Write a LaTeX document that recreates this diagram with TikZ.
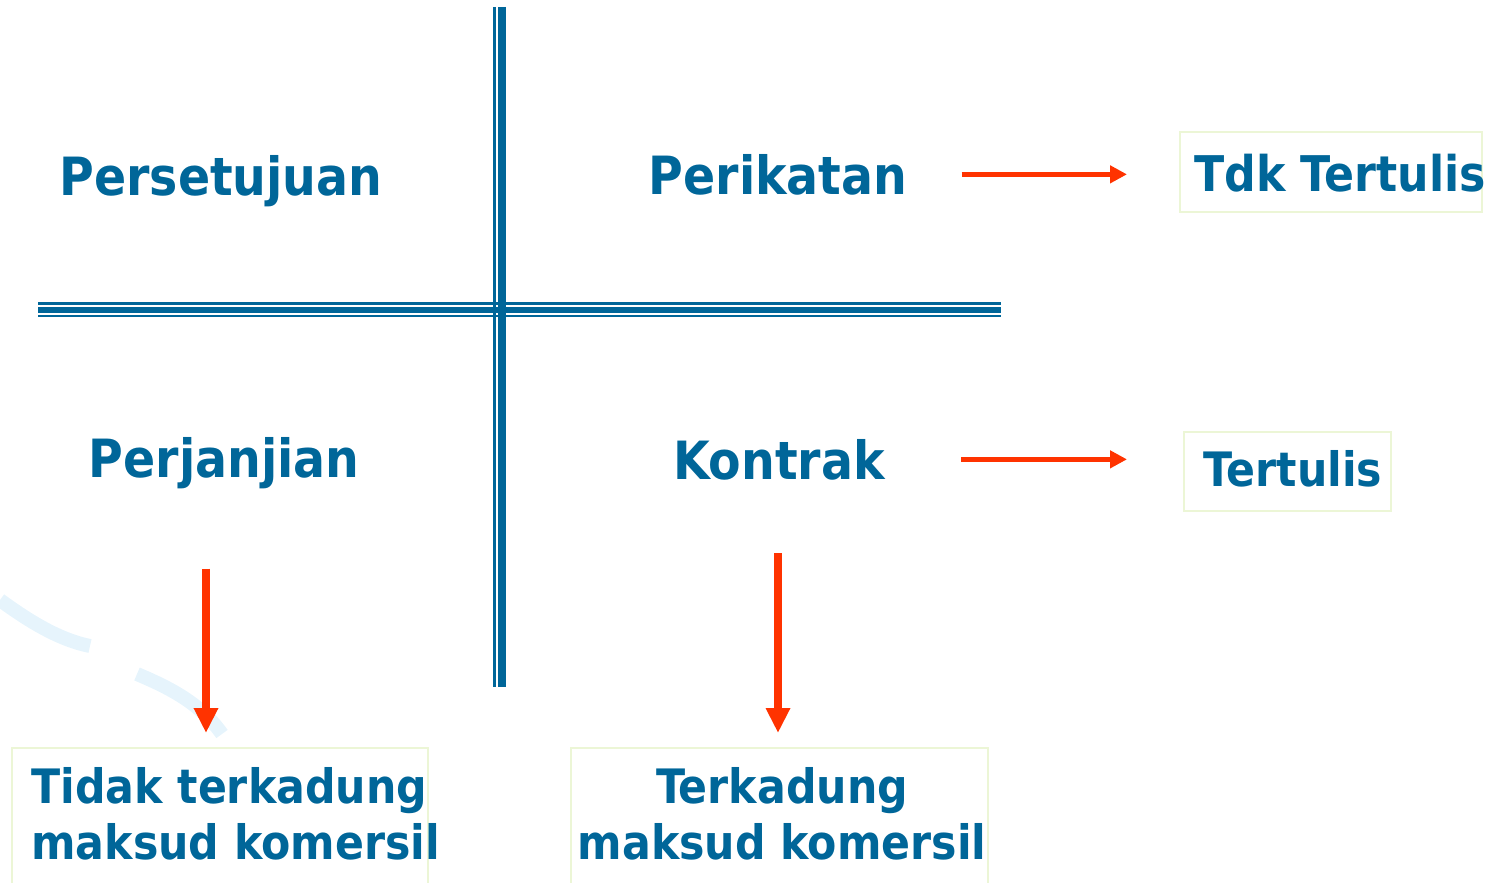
\documentclass[tikz,border=0pt]{standalone}
\usepackage{fontspec}
\newfontfamily\lblfont{DejaVu Sans Condensed Bold}
\usetikzlibrary{arrows.meta,calc}

\definecolor{lineblue}{RGB}{0,102,153}
\definecolor{arrowred}{RGB}{255,51,0}
\definecolor{boxgreen}{RGB}{236,246,214}
\definecolor{swoosh}{RGB}{230,244,252}

\begin{document}
\begin{tikzpicture}[x=0.02cm, y=-0.02cm,
  lbl/.style={font=\lblfont\fontsize{#1}{#1}\selectfont, text=lineblue, inner sep=0pt, anchor=base},
  twolbl/.style={font=\lblfont\fontsize{27}{32}\selectfont, text=lineblue, inner sep=0pt},
  resbox/.style={draw=boxgreen, line width=1.1pt, inner sep=0pt, anchor=north west},
  harrow/.style={draw=arrowred, line width=0.1cm, -{Triangle[length=0.34cm, width=0.34cm]}},
  varrow/.style={draw=arrowred, line width=0.16cm, -{Triangle[length=0.5cm, width=0.46cm]}}]
  \useasboundingbox (0,0) rectangle (1503,882);

  % swoosh in the back
  \draw[swoosh, line width=0.28cm] (0,600) .. controls (30,622) and (60,640) .. (90,646);
  \draw[swoosh, line width=0.28cm] (137,674) .. controls (170,688) and (200,703) .. (222,734);

  % cross
  \draw[lineblue, line width=0.05cm] (494.5,7) -- (494.5,687);
  \draw[lineblue, line width=0.16cm] (501.7,7) -- (501.7,687);
  \draw[lineblue, line width=0.06cm] (38,303) -- (1001,303);
  \draw[lineblue, line width=0.11cm] (38,310) -- (1001,310);
  \draw[lineblue, line width=0.05cm] (38,316) -- (1001,316);

  \node[lbl=30] (persetujuan) at (221,195) {Persetujuan};
  \node[lbl=30] (perikatan) at (778,194) {Perikatan};
  \node[lbl=30] (perjanjian) at (224,477) {Perjanjian};
  \node[lbl=30] (kontrak) at (779,479) {Kontrak};

  \node[resbox, minimum width=6.04cm, minimum height=1.6cm] (tdkbox) at (1179,131) {};
  \node[resbox, minimum width=4.14cm, minimum height=1.58cm] (tertulisbox) at (1183,431) {};
  \node[resbox, minimum width=8.32cm, minimum height=4cm] (tidakbox) at (11,747) {};
  \node[resbox, minimum width=8.34cm, minimum height=4cm] (terkadungbox) at (570,747) {};

  \node[lbl=28] (tdk) at (1340,191) {Tdk Tertulis};
  \node[lbl=27] (tertulis) at (1293,486) {Tertulis};
  \node[twolbl, anchor=north west, align=left] (tidak) at (31,767) {Tidak terkadung\\maksud komersil};
  \node[twolbl, anchor=north, align=center] (terkadung) at (782,767) {Terkadung\\maksud komersil};

  \draw[harrow] ([xshift=1.08cm]perikatan.east) -- ($(perikatan.east -| tdkbox.west)+(-52,0)$);
  \draw[harrow] ([xshift=1.52cm]kontrak.east) -- ($(kontrak.east -| tertulisbox.west)+(-56,0)$);
  \draw[varrow] ($(perjanjian.south)+(-18,80)$) -- ($(perjanjian.south |- tidakbox.north)+(-18,-14)$);
  \draw[varrow] ($(kontrak.south)+(-1,73)$) -- ($(kontrak.south |- terkadungbox.north)+(-1,-14)$);
\end{tikzpicture}
\end{document}
